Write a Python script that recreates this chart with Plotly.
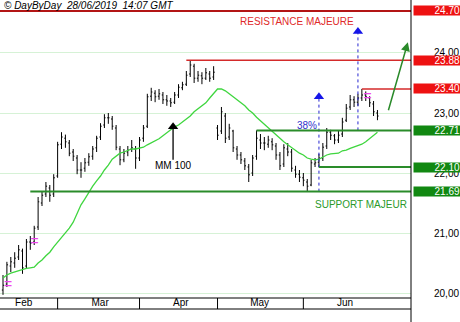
import plotly.graph_objects as go
import pandas as pd

# ---------------- data ----------------
holidays = ["2019-04-19", "2019-04-22", "2019-05-01"]
dates = pd.bdate_range("2019-02-11", "2019-06-28")
dates = dates[~dates.isin(pd.to_datetime(holidays))]
idx = list(range(len(dates)))

open_ = [20.05,20.15,20.45,20.50,20.60,20.70,20.45,20.85,20.85,21.10,
         21.50,21.65,21.75,21.65,21.95,22.48,22.58,22.50,22.35,22.25,
         22.05,22.08,22.18,22.28,22.42,22.60,22.80,22.92,22.90,22.75,
         22.40,22.22,22.35,22.40,22.40,22.25,22.58,22.78,23.28,23.33,
         23.28,23.30,23.22,23.20,23.18,23.30,23.42,23.48,23.65,23.78,
         23.58,23.62,23.58,23.65,23.60,22.75,22.70,22.95,22.60,22.70,
         22.40,22.30,22.20,22.10,22.00,22.28,22.55,22.50,22.48,22.52,
         22.45,22.30,22.15,22.40,22.35,22.05,21.98,21.92,21.85,21.80,
         22.15,22.18,22.25,22.45,22.68,22.62,22.55,22.65,22.88,23.10,
         23.22,23.18,23.25,23.30,23.25,23.15,23.00]
high = [20.30,20.52,20.60,20.68,20.80,20.74,20.90,20.95,21.12,21.60,
        21.70,21.85,21.80,21.98,22.52,22.68,22.64,22.55,22.40,22.30,
        22.18,22.25,22.33,22.45,22.62,22.83,22.98,23.00,22.95,22.80,
        22.45,22.40,22.45,22.55,22.45,22.60,22.80,23.32,23.42,23.38,
        23.40,23.35,23.30,23.25,23.35,23.48,23.52,23.70,23.88,23.82,
        23.70,23.68,23.75,23.70,23.78,22.80,23.10,23.00,22.82,22.72,
        22.45,22.35,22.25,22.15,22.30,22.71,22.65,22.60,22.62,22.58,
        22.50,22.35,22.48,22.50,22.40,22.12,22.05,22.00,21.90,22.22,
        22.25,22.32,22.50,22.75,22.72,22.65,22.70,22.92,23.15,23.30,
        23.28,23.32,23.40,23.36,23.28,23.20,23.05]
low = [19.97,20.10,20.35,20.42,20.55,20.32,20.40,20.72,20.80,21.05,
       21.45,21.60,21.52,21.60,21.92,22.40,22.42,22.28,22.20,21.98,
       21.92,22.02,22.12,22.22,22.35,22.55,22.75,22.82,22.72,22.38,
       22.13,22.18,22.28,22.35,22.07,22.20,22.52,22.75,23.20,23.18,
       23.22,23.15,23.12,23.10,23.15,23.25,23.38,23.45,23.60,23.50,
       23.52,23.48,23.55,23.52,23.55,22.55,22.65,22.50,22.55,22.35,
       22.22,22.15,22.05,21.85,21.95,22.22,22.40,22.38,22.42,22.38,
       22.22,22.05,22.10,22.28,22.02,21.92,21.85,21.78,21.69,21.78,
       22.10,22.10,22.20,22.40,22.55,22.48,22.50,22.60,22.85,23.05,
       23.10,23.12,23.20,23.20,23.10,22.95,22.88]
close = [20.13,20.47,20.52,20.58,20.72,20.42,20.85,20.83,21.08,21.52,
         21.63,21.78,21.63,21.92,22.47,22.60,22.52,22.33,22.28,22.05,
         22.05,22.17,22.27,22.40,22.58,22.78,22.92,22.92,22.78,22.43,
         22.22,22.33,22.38,22.42,22.25,22.55,22.75,23.27,23.35,23.27,
         23.32,23.22,23.20,23.17,23.30,23.43,23.47,23.63,23.80,23.58,
         23.63,23.58,23.67,23.58,23.68,22.63,23.02,22.58,22.75,22.42,
         22.30,22.22,22.12,21.97,22.25,22.58,22.50,22.50,22.55,22.47,
         22.30,22.12,22.42,22.35,22.08,21.98,21.93,21.88,21.78,22.17,
         22.17,22.25,22.43,22.68,22.63,22.55,22.63,22.85,23.08,23.22,
         23.18,23.25,23.30,23.27,23.17,23.02,22.95]
ma100 = [20.25,20.30,20.33,20.35,20.38,20.40,20.41,20.42,20.43,20.50,
         20.55,20.62,20.68,20.77,20.85,20.92,21.00,21.08,21.18,21.33,
         21.47,21.57,21.68,21.78,21.87,21.95,22.05,22.13,22.23,22.28,
         22.33,22.35,22.38,22.40,22.40,22.42,22.43,22.47,22.50,22.53,
         22.57,22.62,22.67,22.72,22.77,22.80,22.85,22.90,22.95,23.02,
         23.07,23.12,23.17,23.25,23.33,23.40,23.40,23.37,23.32,23.27,
         23.22,23.18,23.12,23.05,23.00,22.93,22.87,22.82,22.75,22.70,
         22.63,22.58,22.52,22.47,22.42,22.37,22.33,22.30,22.25,22.23,
         22.22,22.23,22.27,22.30,22.32,22.33,22.33,22.37,22.38,22.41,
         22.43,22.45,22.48,22.52,22.57,22.62,22.68]

levels = [24.70, 23.88, 23.40, 22.71, 22.10, 21.69]
level_kind = ["R", "R", "R", "S", "S", "S"]
level_start = [None, 47, 92, 65, 81, 7]

y_ticks = [20, 21, 22, 23, 24]
y_ticktext = ["20,00", "21,00", "22,00", "23,00", "24,00"]
month_labels = ["Feb", "Mar", "Apr", "May", "Jun"]
month_label_pos = [5.3, 24.9, 45.6, 65.8, 87.7]

# measured-move projections (blue dotted arrows)
mm_x = [81, 91]
mm_from = [21.69, 22.71]
mm_to = [23.27, 24.36]

signal_x = [1.3, 8.1, 93.5]
signal_y = [20.13, 20.85, 23.26]

title_text = "<i>© DayByDay\u00a0 28/06/2019\u00a0 14:07 GMT</i>"

# ---------------- figure ----------------
W, H = 460, 322
ML, MR, MT, MB = 0, 49, 0, 24
plot_h = H - MT - MB
XR = [-0.77, 104.6]
YR = [19.917, 24.883]
FONT = "Liberation Sans, Arial, sans-serif"

fig = go.Figure()

fig.add_trace(go.Scatter(x=idx, y=ma100, mode="lines",
                         line=dict(color="#3fd63f", width=1.3),
                         hoverinfo="skip", showlegend=False))

fig.add_trace(go.Ohlc(x=idx, open=open_, high=high, low=low, close=close,
                      increasing=dict(line=dict(color="black", width=1)),
                      decreasing=dict(line=dict(color="black", width=1)),
                      tickwidth=0.3, showlegend=False))

# blue dotted projection arrows
for xv, y0, y1 in zip(mm_x, mm_from, mm_to):
    fig.add_trace(go.Scatter(x=[xv, xv], y=[y0, y1 - 0.02], mode="lines",
                             line=dict(color="#2626d0", width=1, dash="dot"),
                             hoverinfo="skip", showlegend=False))
fig.add_trace(go.Scatter(x=mm_x, y=mm_to, mode="markers",
                         marker=dict(symbol="triangle-up", size=9, color="#1515e8",
                                     line=dict(width=0)),
                         hoverinfo="skip", showlegend=False))

# pink signal marks
fig.add_trace(go.Scatter(x=signal_x, y=signal_y, mode="text", text=["="] * len(signal_x),
                         textfont=dict(color="#ee44ee", size=14, family=FONT),
                         hoverinfo="skip", showlegend=False))

# MM 100 pointer
mm_px = 43.6
fig.add_trace(go.Scatter(x=[mm_px, mm_px], y=[22.22, 22.74], mode="lines",
                         line=dict(color="black", width=1.3),
                         hoverinfo="skip", showlegend=False))
fig.add_trace(go.Scatter(x=[mm_px], y=[22.77], mode="markers",
                         marker=dict(symbol="triangle-up", size=9, color="black"),
                         hoverinfo="skip", showlegend=False))

shapes = []
annotations = []
for lv, kind, st in zip(levels, level_kind, level_start):
    if kind == "R":
        col = "#b31515" if st is None else "#d42a2a"
        box = "#ee1111"
    else:
        col = "#2a8c2a"
        box = "#118811"
    wid = 2 if (st is None or kind == "S") else 1.5
    if st is None:
        shapes.append(dict(type="line", xref="paper", yref="y", x0=0, x1=1, y0=lv, y1=lv,
                           line=dict(color=col, width=wid), layer="above"))
    else:
        shapes.append(dict(type="line", xref="x", yref="y", x0=st, x1=XR[1], y0=lv, y1=lv,
                           line=dict(color=col, width=wid), layer="above"))
    annotations.append(dict(xref="paper", yref="y", x=1 + 1.5 / 411, y=lv,
                            xanchor="left", yanchor="middle",
                            text=f"{lv:.2f}", showarrow=False, align="right",
                            width=46, height=9, borderpad=0, bgcolor=box,
                            font=dict(color="white", size=10, family=FONT)))

# bottom date band
band = 11 / plot_h
shapes.append(dict(type="line", xref="paper", yref="paper", x0=0, x1=1, y0=0, y1=0,
                   line=dict(color="black", width=1)))
shapes.append(dict(type="line", xref="paper", yref="paper", x0=0, x1=1, y0=-band, y1=-band,
                   line=dict(color="black", width=1)))
month_starts = [i for i in range(1, len(dates)) if dates[i].month != dates[i - 1].month]
for ms in month_starts:
    shapes.append(dict(type="line", xref="x", yref="paper", x0=ms, x1=ms, y0=-band, y1=0,
                       line=dict(color="black", width=1)))
shapes.append(dict(type="line", xref="paper", yref="paper", x0=1, x1=1, y0=-MB / plot_h, y1=1,
                   line=dict(color="black", width=1)))

# texts
annotations += [
    dict(xref="paper", yref="paper", x=0.004, y=1 - 6 / plot_h, xanchor="left", yanchor="middle",
         text=title_text, showarrow=False, font=dict(size=10, color="black", family=FONT)),
    dict(xref="x", yref="y", x=60.3, y=24.52, xanchor="left", yanchor="middle",
         text="RESISTANCE MAJEURE", showarrow=False, font=dict(size=10, color="#e02a2a", family=FONT)),
    dict(xref="x", yref="y", x=79.5, y=21.47, xanchor="left", yanchor="middle",
         text="SUPPORT MAJEUR", showarrow=False, font=dict(size=10, color="#2a9a2a", family=FONT)),
    dict(xref="x", yref="y", x=74.9, y=22.80, xanchor="left", yanchor="middle",
         text="38%", showarrow=False, font=dict(size=10, color="#3030cc", family=FONT)),
    dict(xref="x", yref="y", x=mm_px, y=22.12, xanchor="center", yanchor="middle",
         text="MM 100", showarrow=False, font=dict(size=10, color="black", family=FONT)),
    dict(xref="x", yref="y", x=103.8, y=24.18, axref="x", ayref="y", ax=98.7, ay=23.02,
         text="", showarrow=True, arrowhead=2, arrowsize=1.2, arrowwidth=1.5,
         arrowcolor="#2a8a2a"),
]

fig.update_layout(
    width=W, height=H,
    margin=dict(l=ML, r=MR, t=MT, b=MB, pad=0),
    paper_bgcolor="white", plot_bgcolor="white",
    template="none",
    showlegend=False,
    shapes=shapes, annotations=annotations,
    xaxis=dict(range=XR, showgrid=False, zeroline=False, showline=False,
               tickvals=month_label_pos, ticktext=month_labels, ticks="",
               ticklabelstandoff=-3,
               tickfont=dict(size=10, color="black", family=FONT),
               rangeslider=dict(visible=False), fixedrange=True),
    yaxis=dict(range=YR, side="right", tickvals=y_ticks, ticktext=y_ticktext,
               showgrid=True, gridcolor="#d6f2d6", gridwidth=1, zeroline=False,
               showline=False, ticks="", ticklabelstandoff=22,
               tickfont=dict(size=10, color="black", family=FONT), fixedrange=True),
)

fig.write_html("out.html")
